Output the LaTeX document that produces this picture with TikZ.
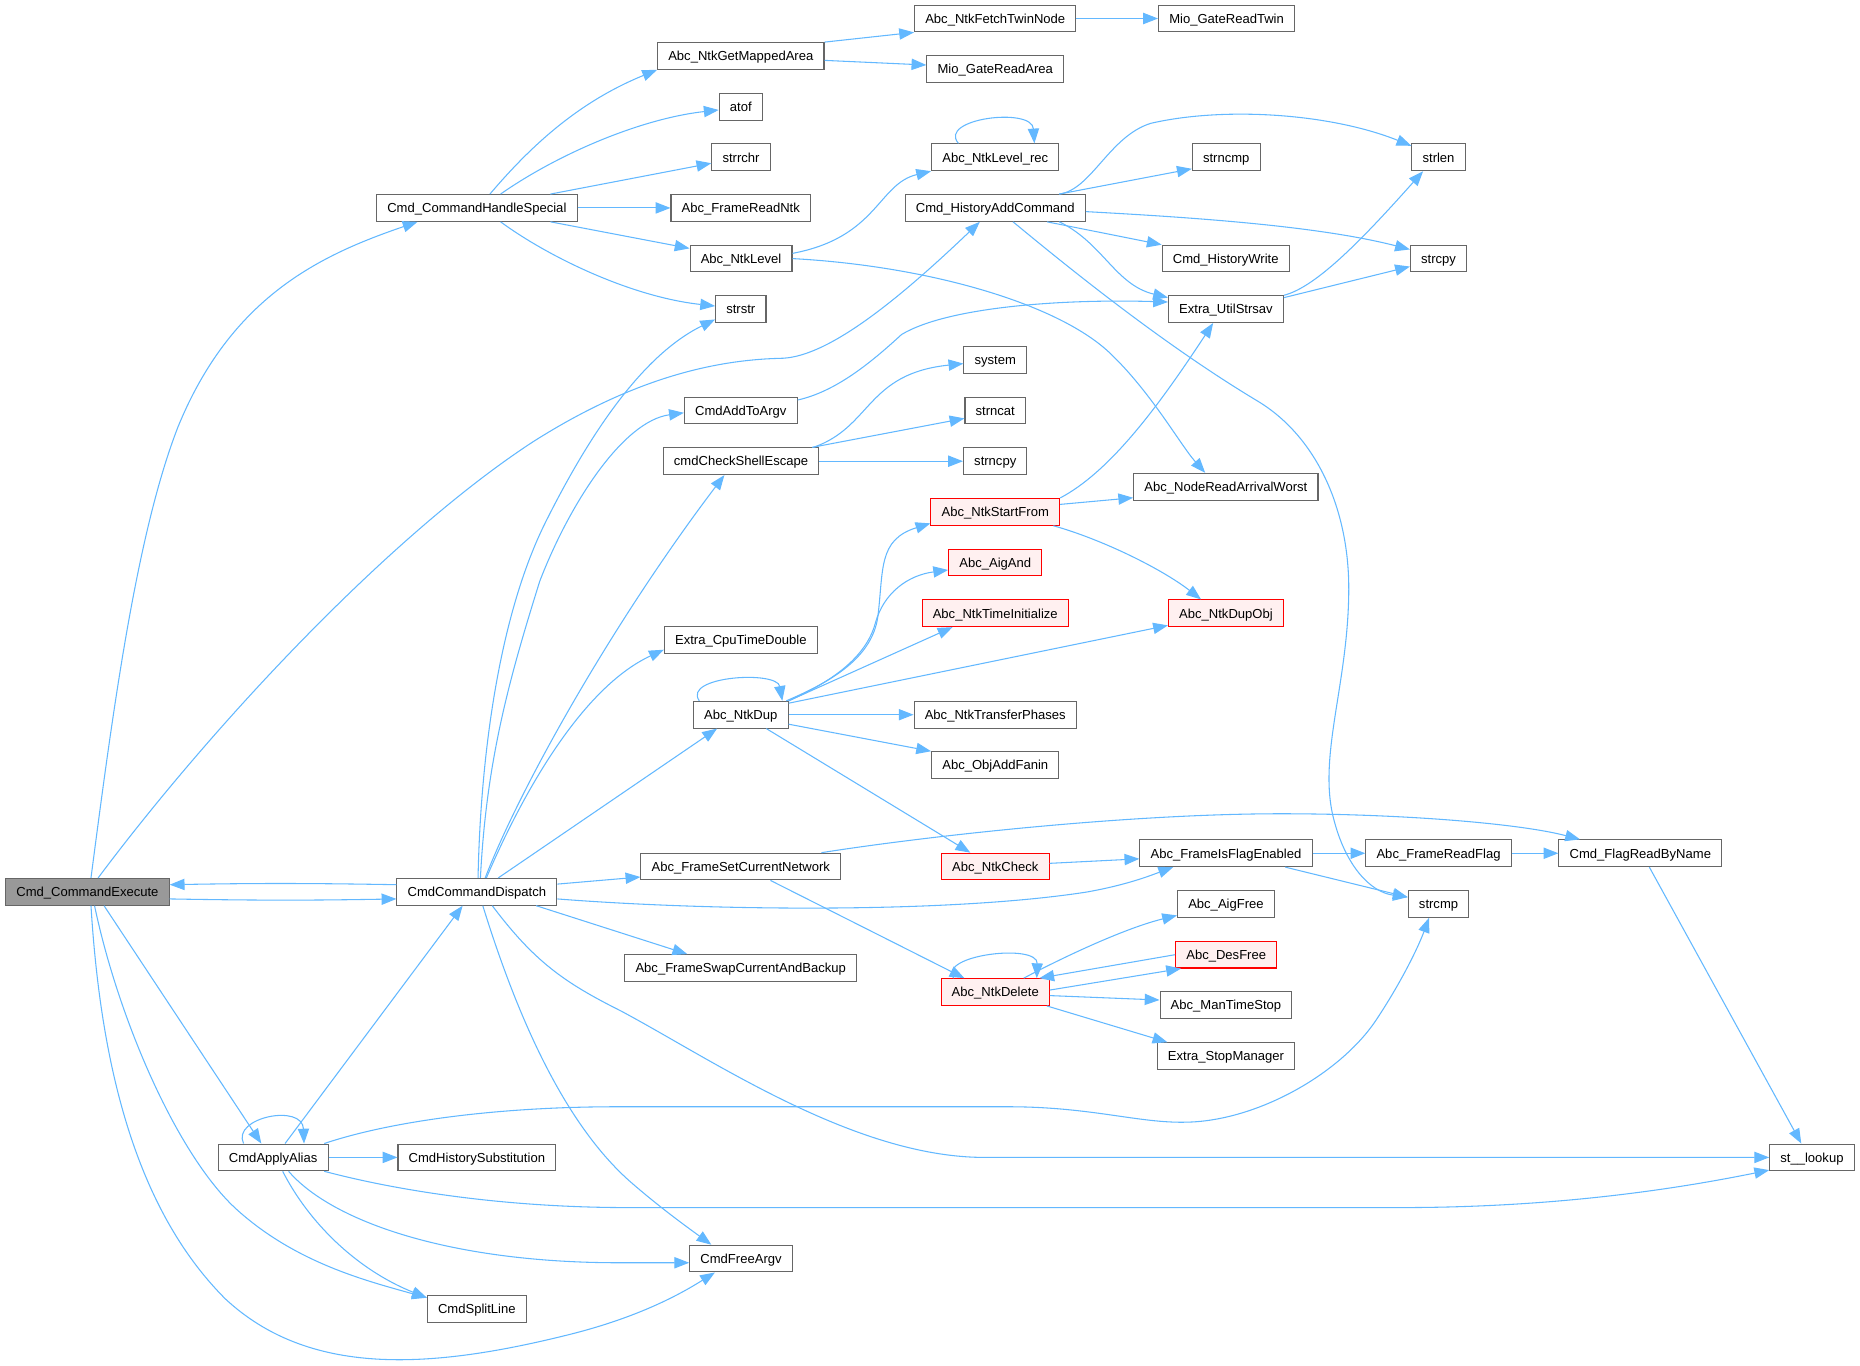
\documentclass[tikz,border=0pt]{standalone}
\usepackage{fontspec}
\setmainfont{Liberation Sans}
\usetikzlibrary{arrows.meta}
\definecolor{edgeblue}{HTML}{63B8FF}
\definecolor{boxgray}{HTML}{666666}
\definecolor{rootgray}{HTML}{999999}
\definecolor{redfill}{HTML}{FFF0F0}
\tikzset{
  fn/.style={draw=boxgray, fill=white, line width=0.9pt, rectangle, minimum height=22.5pt,
    inner xsep=9pt, inner ysep=0pt, text height=8pt, text depth=0pt,
    font=\fontsize{11}{13}\selectfont},
  rootfn/.style={fn, fill=rootgray},
  redfn/.style={fn, draw=red, fill=redfill},
  call/.style={draw=edgeblue, line width=0.9pt, -{Triangle[length=12.5pt,width=9.5pt]}},
}
\begin{document}
\begin{tikzpicture}[x=1pt, y=-1pt]
  \useasboundingbox (0,0) rectangle (1568,1151);

  \node[rootfn] (CE) at (73.7,751.8) {Cmd\_CommandExecute};
  \node[fn] (CHS) at (402,175.3) {Cmd\_CommandHandleSpecial};
  \node[fn] (CD) at (402,751.8) {CmdCommandDispatch};
  \node[fn] (AA) at (230.3,975.7) {CmdApplyAlias};
  \node[fn] (CHSub) at (402,975.7) {CmdHistorySubstitution};
  \node[fn] (CSL) at (402,1103.7) {CmdSplitLine};
  \node[fn] (NGMA) at (624.5,47.2) {Abc\_NtkGetMappedArea};
  \node[fn] (atof) at (624.5,90) {atof};
  \node[fn] (strrchr) at (624.7,132.6) {strrchr};
  \node[fn] (FRN) at (624.5,175.3) {Abc\_FrameReadNtk};
  \node[fn] (NL) at (624.7,218) {Abc\_NtkLevel};
  \node[fn] (strstr) at (624.5,260.6) {strstr};
  \node[fn] (CATA) at (624.5,346) {CmdAddToArgv};
  \node[fn] (CSE) at (624.7,388.8) {cmdCheckShellEscape};
  \node[fn] (ECTD) at (624.5,539.7) {Extra\_CpuTimeDouble};
  \node[fn] (ND) at (624.5,602.5) {Abc\_NtkDup};
  \node[fn] (FSCN) at (624.5,730.5) {Abc\_FrameSetCurrentNetwork};
  \node[fn] (FSCB) at (624.4,816) {Abc\_FrameSwapCurrentAndBackup};
  \node[fn] (CFA) at (624.7,1061) {CmdFreeArgv};
  \node[fn] (NFTN) at (839,15.6) {Abc\_NtkFetchTwinNode};
  \node[fn] (MGRA) at (839,58.3) {Mio\_GateReadArea};
  \node[fn] (NLR) at (839,132.6) {Abc\_NtkLevel\_rec};
  \node[fn] (HAC) at (839,175.3) {Cmd\_HistoryAddCommand};
  \node[fn] (system) at (839,303.5) {system};
  \node[fn] (strncat) at (839,346) {strncat};
  \node[fn] (strncpy) at (839,388.8) {strncpy};
  \node[redfn] (NSF) at (839,431.5) {Abc\_NtkStartFrom};
  \node[redfn] (AigAnd) at (839,474.2) {Abc\_AigAnd};
  \node[redfn] (NTI) at (839,517) {Abc\_NtkTimeInitialize};
  \node[fn] (NTP) at (839,602.5) {Abc\_NtkTransferPhases};
  \node[fn] (OAF) at (839,645) {Abc\_ObjAddFanin};
  \node[redfn] (NC) at (839,730.5) {Abc\_NtkCheck};
  \node[redfn] (NDel) at (839,836.3) {Abc\_NtkDelete};
  \node[fn] (MGRT) at (1034,15.6) {Mio\_GateReadTwin};
  \node[fn] (strncmp) at (1033.7,132.6) {strncmp};
  \node[fn] (CHW) at (1033.3,218) {Cmd\_HistoryWrite};
  \node[fn] (EUS) at (1033.5,260.6) {Extra\_UtilStrsav};
  \node[fn] (NRAW) at (1033.4,410.3) {Abc\_NodeReadArrivalWorst};
  \node[redfn] (NDO) at (1033.5,517) {Abc\_NtkDupObj};
  \node[fn] (FIFE) at (1033.5,719.3) {Abc\_FrameIsFlagEnabled};
  \node[fn] (AigFree) at (1033.5,762) {Abc\_AigFree};
  \node[redfn] (DesFree) at (1033.7,804.8) {Abc\_DesFree};
  \node[fn] (MTS) at (1033.5,847.4) {Abc\_ManTimeStop};
  \node[fn] (ESM) at (1033.5,890.3) {Extra\_StopManager};
  \node[fn] (strlen) at (1212.7,132.6) {strlen};
  \node[fn] (strcpy) at (1212.7,218) {strcpy};
  \node[fn] (FRF) at (1212.7,719.3) {Abc\_FrameReadFlag};
  \node[fn] (strcmp) at (1212.7,762) {strcmp};
  \node[fn] (FRBN) at (1382.8,719.3) {Cmd\_FlagReadByName};
  \node[fn] (lookup) at (1527.5,975.7) {st\_\_lookup};

  \draw[call] ([xshift=3]CE.north) .. controls (95,600) and (115,450) .. (150,360)
    .. controls (195,250) and (270,215) .. ([xshift=-50]CHS.south);
  \draw[call] ([xshift=9]CE.north) .. controls (180,610) and (330,450) .. (450,372)
    .. controls (540,315) and (610,303) .. (660,302)
    .. controls (700,300) and (760,250) .. ([xshift=-13]HAC.south);
  \draw[call] ([yshift=6]CD.west) to[bend right=1] ([yshift=6]CE.east);
  \draw[call] ([yshift=-6]CE.east) to[bend right=1] ([yshift=-6]CD.west);
  \draw[call] ([xshift=14]CE.south) -- ([xshift=-10]AA.north);
  \draw[call] ([xshift=6]CE.south) .. controls (100,860) and (150,975) .. (200,1020)
    .. controls (250,1065) and (310,1080) .. ([yshift=-2]CSL.north west);
  \draw[call] ([xshift=3]CE.south) .. controls (85,900) and (115,1020) .. (190,1095)
    .. controls (260,1160) and (360,1155) .. (480,1125)
    .. controls (540,1110) and (575,1090) .. ([xshift=-22]CFA.south);

  \draw[call] ([xshift=1]CD.north) .. controls (405,640) and (420,520) .. (460,440)
    .. controls (495,370) and (540,300) .. ([yshift=3]strstr.south west);
  \draw[call] ([xshift=3]CD.north) .. controls (410,640) and (430,570) .. (455,490)
    .. controls (480,425) and (525,355) .. ([yshift=-2]CATA.west);
  \draw[call] ([xshift=7]CD.north) .. controls (440,660) and (520,520) .. ([xshift=-14]CSE.south);
  \draw[call] ([xshift=8]CD.north) .. controls (440,670) and (490,580) .. ([yshift=-8]ECTD.west);
  \draw[call] ([xshift=18]CD.north) -- ([xshift=-20]ND.south);
  \draw[call] ([yshift=6.5]CD.east) -- ([yshift=-8.8]FSCN.west);
  \draw[call] ([yshift=-6]CD.east) .. controls (600,768) and (800,770) .. (916,752)
    .. controls (950,746) and (970,738) .. ([xshift=-44.5]FIFE.south);
  \draw[call] ([xshift=50]CD.south) -- ([xshift=-45]FSCB.north);
  \draw[call] ([xshift=5]CD.south) .. controls (440,870) and (480,950) .. (530,995)
    .. controls (555,1017) and (580,1035) .. ([xshift=-25]CFA.north);
  \draw[call] ([xshift=13]CD.south) .. controls (450,810) and (475,828) .. (523,852)
    .. controls (600,893) and (720,975.7) .. (830,975.7) -- (lookup.west);

  \draw[call] ([xshift=-25]AA.north) .. controls (195,942) and (255,930) .. ([xshift=26]AA.north);
  \draw[call] ([xshift=10]AA.north) -- ([xshift=-12]CD.south);
  \draw[call] (AA) -- (CHSub);
  \draw[call] ([xshift=43]AA.north) .. controls (330,945) and (420,933) .. (520,933) -- (850,933)
    .. controls (920,933) and (960,947) .. (1000,946)
    .. controls (1060,945) and (1130,905) .. (1160,860)
    .. controls (1180,830) and (1195,800) .. ([xshift=-8]strcmp.south);
  \draw[call] ([xshift=43]AA.south) .. controls (340,1005) and (430,1018) .. (530,1018) -- (1180,1018)
    .. controls (1300,1018) and (1400,1005) .. ([yshift=1]lookup.south west);
  \draw[call] ([xshift=13]AA.south) .. controls (280,1030) and (380,1064.5) .. (522,1064.5)
    -- ([yshift=-3.5]CFA.west);
  \draw[call] ([xshift=8]AA.south) .. controls (260,1030) and (300,1070) .. ([yshift=-2]CSL.north west);

  \draw[call] ([xshift=11]CHS.north) .. controls (450,120) and (490,85) .. (NGMA.south west);
  \draw[call] ([xshift=20]CHS.north) .. controls (470,130) and (540,100) .. ([yshift=-2.7]atof.west);
  \draw[call] ([xshift=62]CHS.north) -- ([yshift=-5]strrchr.west);
  \draw[call] (CHS) -- (FRN);
  \draw[call] ([xshift=62]CHS.south) -- ([yshift=8.6]NL.west);
  \draw[call] ([xshift=20]CHS.south) .. controls (460,215) and (530,250) .. ([yshift=2.6]strstr.west);

  \draw[call] (NGMA.north east) -- (NFTN.south west);
  \draw[call] ([yshift=-3.7]NGMA.east) -- ([yshift=3.5]MGRA.west);
  \draw[call] (NFTN) -- (MGRT);

  \draw[call] ([yshift=4.4]NL.east) .. controls (740,200) and (740,155) .. (NLR.south west);
  \draw[call] (NL.east) .. controls (780,224) and (890,255) .. (935,297)
    .. controls (970,330) and (995,375) .. ([xshift=-17.4]NRAW.north);
  \draw[call] ([xshift=-31]NLR.north) .. controls (790,100) and (870,90) .. ([xshift=33]NLR.north);

  \draw[call] ([xshift=54]HAC.north) .. controls (920,160) and (935,115) .. (970,104)
    .. controls (1030,90) and (1120,95) .. ([yshift=-2]strlen.north west);
  \draw[call] ([xshift=54]HAC.north) -- ([yshift=2]strncmp.south west);
  \draw[call] ([yshift=-3.1]HAC.east) .. controls (1000,183) and (1110,190) .. ([yshift=-4]strcpy.north west);
  \draw[call] ([xshift=43.7]HAC.south) -- (CHW.north west);
  \draw[call] ([xshift=54]HAC.south) .. controls (930,205) and (940,240) .. ([yshift=-2]EUS.north west);
  \draw[call] ([xshift=15]HAC.south) .. controls (900,225) and (980,290) .. (1060,338)
    .. controls (1110,368) and (1138,430) .. (1137,500)
    .. controls (1136,580) and (1110,640) .. (1125,693)
    .. controls (1135,730) and (1155,752) .. ([yshift=-6]strcmp.north west);

  \draw[call] (EUS.north east) .. controls (1110,242) and (1150,200) .. ([xshift=-13]strlen.south);
  \draw[call] ([yshift=-2]EUS.north east) -- ([yshift=5]strcpy.south west);
  \draw[call] ([yshift=8.8]CATA.east) .. controls (705,330) and (735,305) .. (760,282)
    .. controls (800,258) and (900,252) .. ([yshift=6]EUS.west);

  \draw[call] ([xshift=61]CSE.north) .. controls (735,360) and (730,315) .. ([yshift=-3]system.west);
  \draw[call] ([xshift=60]CSE.north) -- ([yshift=-6.7]strncat.west);
  \draw[call] (CSE) -- (strncpy);

  \draw[call] (NSF.north east) .. controls (935,398) and (975,345) .. ([xshift=-10.8]EUS.south);
  \draw[call] ([yshift=6.3]NSF.east) -- ([yshift=-9.3]NRAW.west);
  \draw[call] ([xshift=49]NSF.south) .. controls (930,455) and (980,480) .. ([xshift=-21]NDO.north);

  \draw[call] ([xshift=-35]ND.north) .. controls (575,570) and (655,565) .. ([xshift=35]ND.north);
  \draw[call] ([xshift=-2]ND.north east) .. controls (700,575) and (735,555) .. (740,520)
    .. controls (745,480) and (740,455) .. ([yshift=2]NSF.south west);
  \draw[call] (ND.north east) .. controls (700,575) and (730,555) .. (738,525)
    .. controls (745,500) and (765,485) .. ([yshift=-6.3]AigAnd.west);
  \draw[call] (ND.north east) -- ([xshift=-36]NTI.south);
  \draw[call] ([yshift=-2]ND.north east) -- ([yshift=1.5]NDO.south west);
  \draw[call] (ND) -- (NTP);
  \draw[call] ([yshift=-8]ND.east) -- (OAF.north west);
  \draw[call] ([xshift=21.5]ND.south) -- ([xshift=-21]NC.north);

  \draw[call] ([xshift=68]FSCN.north) .. controls (780,705) and (950,686) .. (1080,686)
    .. controls (1180,686) and (1280,694) .. ([xshift=-50.8]FRBN.north);
  \draw[call] ([xshift=25]FSCN.south) -- ([xshift=-26]NDel.north);
  \draw[call] ([yshift=2.7]NC.east) -- ([yshift=-4.7]FIFE.west);

  \draw[call] (FIFE) -- (FRF);
  \draw[call] ([xshift=50]FIFE.south) -- ([yshift=-6]strcmp.north west);
  \draw[call] (FRF) -- (FRBN);
  \draw[call] ([xshift=7.6]FRBN.south) -- ([xshift=-9]lookup.north);

  \draw[call] ([xshift=-35]NDel.north) .. controls (790,805) and (875,795) .. ([xshift=35]NDel.north);
  \draw[call] ([xshift=24]NDel.north) .. controls (900,805) and (950,782) .. ([yshift=2]AigFree.south west);
  \draw[call] (DesFree.west) -- ([xshift=-9]NDel.north east);
  \draw[call] ([yshift=1.7]NDel.east) -- ([xshift=5]DesFree.south west);
  \draw[call] ([yshift=-3]NDel.east) -- ([yshift=4.4]MTS.west);
  \draw[call] ([xshift=43.5]NDel.south) -- ([xshift=9]ESM.north west);
\end{tikzpicture}
\end{document}
